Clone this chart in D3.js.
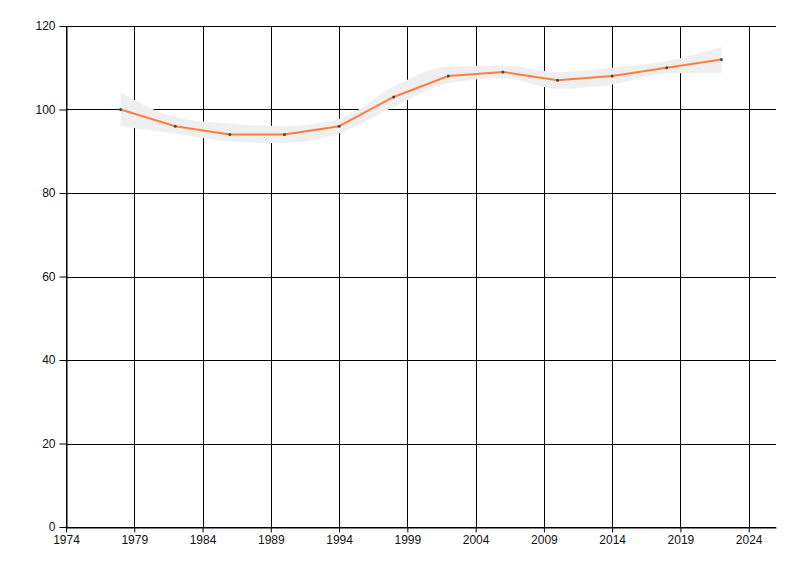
<!DOCTYPE html>
<html><head><meta charset="utf-8">
<script src="https://cdn.jsdelivr.net/npm/d3@7"></script>
<style>body{margin:0;background:#fff;} svg{display:block;}</style>
</head><body>
<svg id="chart" width="800" height="576"></svg>
<script>
const years  = [1978, 1982, 1986, 1990, 1994, 1998, 2002, 2006, 2010, 2014, 2018, 2022];
const values = [100, 96, 94, 94, 96, 103, 108, 109, 107, 108, 110, 112];
const upper  = [104, 98.2, 96.6, 96, 97.7, 105.5, 110.3, 110.5, 109, 110, 111.6, 115];
const lower  = [96, 94.2, 92.4, 92, 94.3, 100.6, 106.3, 107.5, 105, 106, 108.6, 108.8];
const xTicks = [1974, 1979, 1984, 1989, 1994, 1999, 2004, 2009, 2014, 2019, 2024];
const yTicks = [0, 20, 40, 60, 80, 100, 120];

const svg = d3.select("#chart");
const m = {left: 66, right: 24, top: 26, bottom: 49};
const W = 800, H = 576;
const x = d3.scaleLinear().domain([1974, 2026]).range([m.left, W - m.right]);
const y = d3.scaleLinear().domain([0, 120]).range([H - m.bottom, m.top]);
const font = "'Liberation Sans', Arial, sans-serif";

// grid
svg.append("g").selectAll("line.v").data(xTicks).join("line")
  .attr("x1", d => Math.round(x(d)) + 0.5).attr("x2", d => Math.round(x(d)) + 0.5)
  .attr("y1", y(120)).attr("y2", y(0)).attr("stroke", "#000").attr("stroke-width", 1);
svg.append("g").selectAll("line.h").data(yTicks).join("line")
  .attr("x1", x(1974)).attr("x2", x(2026))
  .attr("y1", d => Math.round(y(d)) + 0.5).attr("y2", d => Math.round(y(d)) + 0.5)
  .attr("stroke", "#000").attr("stroke-width", 1);

// band
const band = years.map((yr, i) => ({yr, hi: upper[i], lo: lower[i]}));
svg.append("path").datum(band)
  .attr("fill", "#efefef")
  .attr("d", d3.area().curve(d3.curveMonotoneX)
    .x(d => x(d.yr)).y0(d => y(d.lo)).y1(d => y(d.hi)));

// line
const pts = years.map((yr, i) => ({yr, v: values[i]}));
svg.append("path").datum(pts)
  .attr("fill", "none").attr("stroke", "#ff7f3f").attr("stroke-width", 2)
  .attr("d", d3.line().x(d => x(d.yr)).y(d => y(d.v)));
svg.append("g").selectAll("circle").data(pts).join("circle")
  .attr("cx", d => x(d.yr)).attr("cy", d => y(d.v)).attr("r", 1.5).attr("fill", "#444");

// axes
const xAxis = d3.axisBottom(x).tickValues(xTicks).tickFormat(d3.format("d")).tickSize(5).tickSizeOuter(0).tickPadding(3);
const gx = svg.append("g").attr("transform", `translate(0,${Math.round(y(0)) + 0.5})`).call(xAxis);
const yAxis = d3.axisLeft(y).tickValues(yTicks).tickSize(7).tickSizeOuter(0).tickPadding(4);
const gy = svg.append("g").attr("transform", `translate(${Math.round(x(1974)) + 0.5},0)`).call(yAxis);
[gx, gy].forEach(g => {
  g.select(".domain").attr("stroke", "#000");
  g.selectAll(".tick line").attr("stroke", "#000");
  g.selectAll("text").attr("font-family", font).attr("font-size", 12).attr("fill", "#111");
});
gx.selectAll(".tick text").attr("dy", "0.71em");
</script>
</body></html>
